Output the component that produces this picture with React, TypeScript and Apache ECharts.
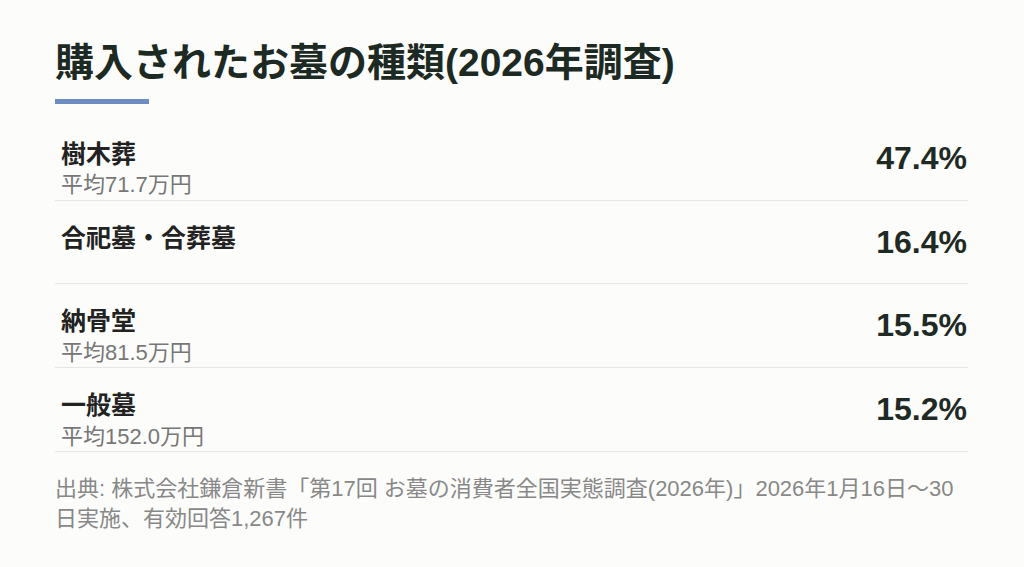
import { useEffect, useRef } from 'react'
import * as echarts from 'echarts'

// 購入されたお墓の種類
const categories = ['樹木葬', '合祀墓・合葬墓', '納骨堂', '一般墓']
const averages = ['平均71.7万円', '', '平均81.5万円', '平均152.0万円']
const shares = [47.4, 16.4, 15.5, 15.2]

const TITLE = '購入されたお墓の種類(2026年調査)'
const SOURCE =
  '出典: 株式会社鎌倉新書「第17回 お墓の消費者全国実態調査(2026年)」2026年1月16日〜30\n日実施、有効回答1,267件'

// latin glyphs from Liberation Sans, kana/kanji fall back to Noto CJK
const FONT = "'Liberation Sans', 'Noto Sans CJK JP', sans-serif"

export default function App() {
  const chartRef = useRef<HTMLDivElement>(null)

  useEffect(() => {
    if (!chartRef.current) return
    const chart = echarts.init(chartRef.current, undefined, { renderer: 'svg' })

    const option: echarts.EChartsOption = {
      animation: false,
      backgroundColor: '#FCFCFB',
      textStyle: { fontFamily: FONT },
      title: {
        text: TITLE,
        left: 55,
        top: 43,
        padding: 0,
        textStyle: {
          fontFamily: FONT,
          fontSize: 39,
          fontWeight: 'bold',
          color: '#1D2A23'
        }
      },
      grid: { left: 55, right: 56, top: 116, bottom: 116 },
      xAxis: { type: 'value', show: false, min: 0, max: 100 },
      yAxis: [
        {
          type: 'category',
          data: categories,
          inverse: true,
          axisLine: { show: false },
          axisTick: { show: false },
          splitLine: {
            show: true,
            interval: (i: number) => i > 0,
            lineStyle: { color: '#E6E6E6', width: 1 }
          },
          axisLabel: {
            inside: true,
            align: 'left',
            margin: 6,
            padding: [23, 0, 0, 0],
            formatter: (value: string, index: number) =>
              `{n|${value}}\n{s|${averages[index] || ' '}}`,
            rich: {
              n: {
                fontFamily: FONT,
                fontSize: 25,
                fontWeight: 'bold',
                color: '#222222',
                lineHeight: 31
              },
              s: {
                fontFamily: FONT,
                fontSize: 22,
                color: '#777777',
                lineHeight: 31
              }
            }
          }
        },
        {
          type: 'category',
          position: 'right',
          data: shares.map(v => `${v.toFixed(1)}%`),
          inverse: true,
          axisLine: { show: false },
          axisTick: { show: false },
          splitLine: { show: false },
          axisLabel: {
            inside: true,
            align: 'right',
            margin: 1,
            fontFamily: FONT,
            fontSize: 32,
            fontWeight: 'bold',
            color: '#1F2A24'
          }
        }
      ],
      series: [
        {
          type: 'bar',
          yAxisIndex: 0,
          data: shares,
          silent: true,
          itemStyle: { color: 'rgba(0,0,0,0)' }
        }
      ],
      graphic: [
        {
          type: 'rect',
          shape: { x: 55, y: 99, width: 94, height: 5 },
          style: { fill: '#6E8CC0' },
          silent: true
        },
        {
          type: 'text',
          left: 55,
          top: 473,
          style: {
            text: SOURCE,
            fontFamily: FONT,
            fontSize: 22,
            lineHeight: 30,
            fill: '#888888'
          },
          silent: true
        }
      ]
    }

    chart.setOption(option)

    const handleResize = () => chart.resize()
    window.addEventListener('resize', handleResize)
    return () => {
      window.removeEventListener('resize', handleResize)
      chart.dispose()
    }
  }, [])

  return (
    <div
      ref={chartRef}
      style={{ position: 'fixed', left: 0, top: 0, width: 1024, height: 567 }}
    />
  )
}
